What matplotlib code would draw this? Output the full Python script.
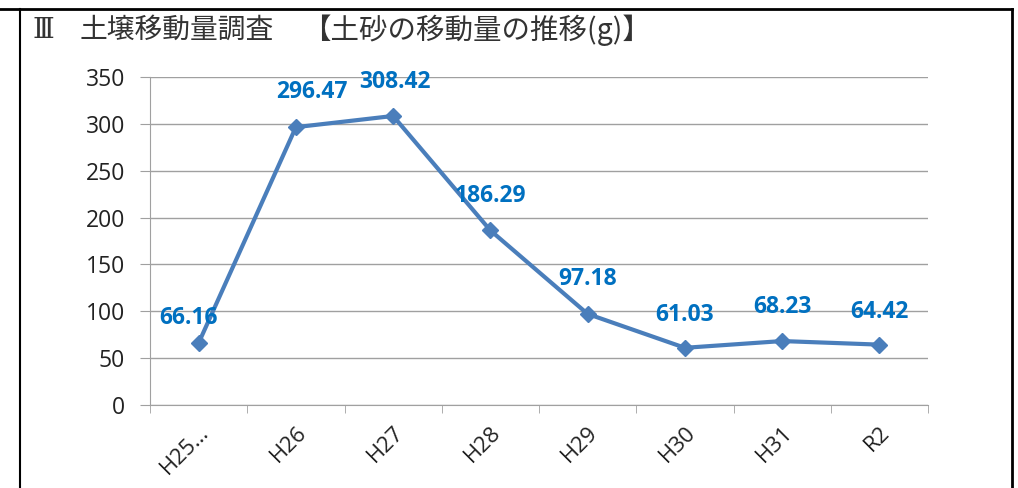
import matplotlib.pyplot as plt
from matplotlib.lines import Line2D

plt.rcParams['font.family'] = ['Open Sans', 'Noto Sans CJK JP', 'DejaVu Sans']

# 土砂の移動量 (g)
years = ['H25…', 'H26', 'H27', 'H28', 'H29', 'H30', 'H31', 'R2']
amounts = [66.16, 296.47, 308.42, 186.29, 97.18, 61.03, 68.23, 64.42]

# label offsets in pixels from each point
label_offsets = [(-10, 25), (16, 35), (2, 34), (0, 34), (0, 35), (0, 33), (0, 34), (0, 33)]

W, H = 1018, 488
fig = plt.figure(figsize=(W / 100, H / 100), dpi=100)
ax = fig.add_axes([150 / W, 83 / H, 778 / W, 328 / H])

x = list(range(len(years)))
ax.plot(x, amounts, color='#4A7EBB', lw=3, marker='D', ms=8, zorder=3)

for i, v in enumerate(amounts):
    dx, dy = label_offsets[i]
    ax.annotate(f'{v:.2f}', (i, v), xytext=(dx, dy), textcoords='offset pixels',
                ha='center', va='center', color='#0070C0', fontsize=16.5,
                fontweight='bold', zorder=4)

ax.set_xlim(-0.5, len(years) - 0.5)
ax.set_ylim(0, 350)
ax.set_yticks(range(0, 351, 50))
ax.set_xticks(x)
ax.set_xticklabels(years, rotation=45, ha='right', rotation_mode='anchor')
ax.set_xticks([i - 0.5 for i in range(len(years) + 1)], minor=True)
ax.tick_params(axis='x', which='major', length=0, pad=12, labelsize=16, labelcolor='#222222')
ax.tick_params(axis='x', which='minor', length=6, color='#A0A0A0', direction='out')
ax.tick_params(axis='y', length=7, color='#A0A0A0', labelsize=16.5, pad=11, labelcolor='#222222')

ax.grid(axis='y', color='#A0A0A0', lw=1)
ax.set_axisbelow(True)
for side in ['top', 'right']:
    ax.spines[side].set_visible(False)
for side in ['left', 'bottom']:
    ax.spines[side].set_color('#A0A0A0')

# frame around the section
fig.add_artist(Line2D([0, 1012 / W], [1 - 9 / H, 1 - 9 / H], color='black', lw=2))
fig.add_artist(Line2D([20 / W, 20 / W], [0, 1 - 9 / H], color='black', lw=1.5))
fig.add_artist(Line2D([1012 / W, 1012 / W], [0, 1 - 9 / H], color='black', lw=2))

fig.text(32 / W, 1 - 30 / H, 'Ⅲ', family=['DejaVu Serif'], fontsize=20,
         va='center', ha='left', color='#333333')
fig.text(80 / W, 1 - 30 / H, '土壌移動量調査', family=['Noto Sans CJK JP'],
         fontsize=20, va='center', ha='left', color='#333333')
fig.text(302 / W, 1 - 30 / H, '【土砂の移動量の推移(g)】', family=['Noto Sans CJK JP'],
         fontsize=20.5, va='center', ha='left', color='#333333')

fig.savefig('out.png', dpi=100)
